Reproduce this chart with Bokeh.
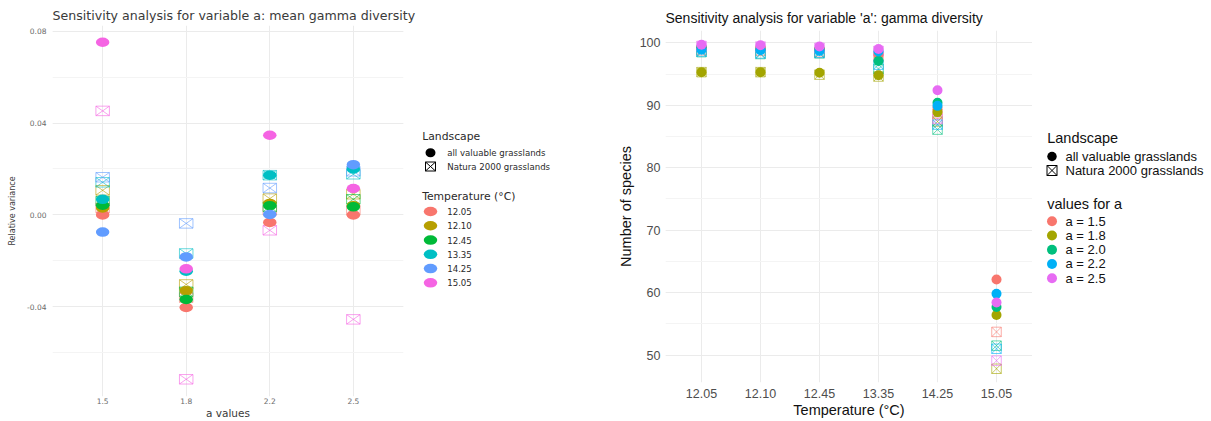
from bokeh.plotting import figure
from bokeh.layouts import row, column
from bokeh.models import (Range1d, FixedTicker, SingleIntervalTicker,
                          ColumnDataSource, PrintfTickFormatter)
from bokeh.embed import file_html
from bokeh.resources import INLINE
from bokeh.core.properties import value

# ------------------------------------------------------------------
# Left panel data: relative variance of mean gamma diversity
# ------------------------------------------------------------------
a_values = ["1.5", "1.8", "2.2", "2.5"]
temperature_labels = ["12.05", "12.10", "12.45", "13.35", "14.25", "15.05"]
temperature_colors = ["#F8766D", "#B79F00", "#00BA38", "#00BFC4", "#619CFF", "#F564E3"]
landscape_labels = ["all valuable grasslands", "Natura 2000 grasslands"]

# all valuable grasslands (filled circles), per temperature, over a_values
relvar_all_1205 = [0.0000, -0.0403, -0.0033, 0.0000]
relvar_all_1210 = [0.0030, -0.0330, 0.0050, 0.0040]
relvar_all_1245 = [0.0042, -0.0368, 0.0040, 0.0035]
relvar_all_1335 = [0.0068, -0.0245, 0.0173, 0.0200]
relvar_all_1425 = [-0.0075, -0.0183, 0.0002, 0.0219]
relvar_all_1505 = [0.0752, -0.0235, 0.0347, 0.0115]

# Natura 2000 grasslands (crossed squares), per temperature, over a_values
relvar_n2k_1205 = [0.0030, -0.0360, 0.0020, 0.0020]
relvar_n2k_1210 = [0.0107, -0.0303, 0.0071, 0.0090]
relvar_n2k_1245 = [0.0060, -0.0335, 0.0035, 0.0068]
relvar_n2k_1335 = [0.0142, -0.0168, 0.0173, 0.0177]
relvar_n2k_1425 = [0.0164, -0.0037, 0.0117, 0.0190]
relvar_n2k_1505 = [0.0453, -0.0716, -0.0067, -0.0455]

relvar_all = [relvar_all_1205, relvar_all_1210, relvar_all_1245,
              relvar_all_1335, relvar_all_1425, relvar_all_1505]
relvar_n2k = [relvar_n2k_1205, relvar_n2k_1210, relvar_n2k_1245,
              relvar_n2k_1335, relvar_n2k_1425, relvar_n2k_1505]

# ------------------------------------------------------------------
# Right panel data: number of species (gamma diversity)
# ------------------------------------------------------------------
temperature_axis = ["12.05", "12.10", "12.45", "13.35", "14.25", "15.05"]
a_labels = ["a = 1.5", "a = 1.8", "a = 2.0", "a = 2.2", "a = 2.5"]
a_colors = ["#F8766D", "#A3A500", "#00BF7D", "#00B0F6", "#E76BF3"]

species_all_a15 = [99.2, 99.2, 99.0, 98.1, 89.6, 62.1]
species_all_a18 = [95.3, 95.3, 95.2, 94.8, 88.9, 56.4]
species_all_a20 = [99.3, 99.0, 99.0, 97.1, 90.4, 57.7]
species_all_a22 = [98.9, 98.8, 98.7, 98.6, 89.9, 59.8]
species_all_a25 = [99.7, 99.6, 99.4, 99.0, 92.4, 58.4]

species_n2k_a15 = [98.8, 98.7, 98.5, 97.8, 88.6, 53.7]
species_n2k_a18 = [95.3, 95.3, 94.9, 94.6, 87.4, 47.8]
species_n2k_a20 = [98.5, 98.2, 98.3, 95.8, 86.1, 51.5]
species_n2k_a22 = [98.6, 98.3, 98.4, 96.5, 86.9, 51.0]
species_n2k_a25 = [99.5, 99.4, 99.2, 98.7, 87.8, 49.1]

species_all = [species_all_a15, species_all_a18, species_all_a20,
               species_all_a22, species_all_a25]
species_n2k = [species_n2k_a15, species_n2k_a18, species_n2k_a20,
               species_n2k_a22, species_n2k_a25]

# ------------------------------------------------------------------
# Styling helpers
# ------------------------------------------------------------------
GRID = "#EBEBEB"
MINOR = "#F4F4F4"


def style_axes(p, font, tick_size, tick_color, label_size, label_color,
               x_standoff, y_standoff, x_lab_standoff, y_lab_standoff):
    for ax in (p.xaxis, p.yaxis):
        ax.axis_line_color = None
        ax.major_tick_line_color = None
        ax.minor_tick_line_color = None
        ax.major_tick_out = 0
        ax.major_tick_in = 0
        ax.minor_tick_out = 0
        ax.minor_tick_in = 0
        ax.major_label_text_font = font
        ax.major_label_text_font_size = tick_size
        ax.major_label_text_color = tick_color
        ax.axis_label_text_font = font
        ax.axis_label_text_font_size = label_size
        ax.axis_label_text_font_style = "normal"
        ax.axis_label_text_color = label_color
    p.xaxis.major_label_standoff = x_standoff
    p.yaxis.major_label_standoff = y_standoff
    p.xaxis.axis_label_standoff = x_lab_standoff
    p.yaxis.axis_label_standoff = y_lab_standoff
    p.xgrid.grid_line_color = GRID
    p.ygrid.grid_line_color = GRID
    p.ygrid.minor_grid_line_color = MINOR
    p.outline_line_color = None
    p.background_fill_color = "white"
    p.border_fill_color = "white"


def legend_canvas(w, h):
    f = figure(width=w, height=h, x_range=Range1d(0, w), y_range=Range1d(h, 0),
               output_backend="svg", toolbar_location=None, min_border=0,
               x_axis_type=None, y_axis_type=None)
    f.grid.visible = False
    f.outline_line_color = None
    f.background_fill_color = "white"
    f.border_fill_color = "white"
    return f


H = 421

# ------------------------------------------------------------------
# Left panel
# ------------------------------------------------------------------
L_W = 420
L_BL, L_BR, L_BT, L_BB = 52, 17, 25, 24
L_X = (0.4, 4.6)
L_Y = (-0.0791, 0.0825)
a_pos = [i + 1 for i in range(len(a_values))]

left = figure(width=L_W, height=H, x_range=Range1d(*L_X), y_range=Range1d(*L_Y),
              output_backend="svg", toolbar_location=None,
              min_border_left=L_BL, min_border_right=L_BR,
              min_border_top=L_BT, min_border_bottom=L_BB,
              title="Sensitivity analysis for variable a: mean gamma diversity")
left.title.text_font = "DejaVu Sans"
left.title.text_font_size = "12.6px"
left.title.text_font_style = "normal"
left.title.text_color = "#3a3a3a"
left.title.standoff = 5
left.title.offset = 0

left.xaxis.ticker = FixedTicker(ticks=a_pos)
left.xaxis.major_label_overrides = {p: lab for p, lab in zip(a_pos, a_values)}
left.yaxis.ticker = SingleIntervalTicker(interval=0.04, num_minor_ticks=2)
left.yaxis.formatter = PrintfTickFormatter(format="%.2f")
left.xaxis.axis_label = "a values"
left.yaxis.axis_label = "Relative variance"
style_axes(left, "DejaVu Sans", "7.5px", "#6a6a6a", "10.5px", "#3a3a3a",
           1, 6, 0, 7)
left.yaxis.axis_label_text_font_size = "8px"

frame_w = L_W - L_BL - L_BR
frame_h = H - L_BT - L_BB
px_x = (L_X[1] - L_X[0]) / frame_w
px_y = (L_Y[1] - L_Y[0]) / frame_h
MW, MH = 13.5, 9.5   # marker size in pixels (horizontally stretched)

for vals, col in zip(relvar_n2k, temperature_colors):
    src = ColumnDataSource(dict(
        x=a_pos, y=vals,
        x0=[x - MW / 2 * px_x for x in a_pos], x1=[x + MW / 2 * px_x for x in a_pos],
        y0=[y - MH / 2 * px_y for y in vals], y1=[y + MH / 2 * px_y for y in vals]))
    left.rect("x", "y", width=MW, height=MH, width_units="screen", height_units="screen",
              source=src, fill_color=None, line_color=col, line_alpha=0.6, line_width=1)
    left.segment("x0", "y0", "x1", "y1", source=src, line_color=col, line_alpha=0.6, line_width=1)
    left.segment("x0", "y1", "x1", "y0", source=src, line_color=col, line_alpha=0.6, line_width=1)

for vals, col in zip(relvar_all, temperature_colors):
    left.ellipse(x=a_pos, y=vals, width=MW, height=MH, width_units="screen",
                 height_units="screen", fill_color=col, line_color=None)

# Left legend (canvas starts where the left figure ends)
LL_W = 185
lleg = legend_canvas(LL_W, H)
LFONT = value("DejaVu Sans")
LX_T, LX_M, LX_L = 1.7, 10, 26.7
lleg.text(x=[LX_T, LX_T], y=[136, 195.7], text=["Landscape", "Temperature (°C)"],
          text_font=LFONT, text_font_size="10.8px", text_baseline="middle",
          text_align="left", text_color="#2a2a2a")
land_y = [152.3 + 13.7 * i for i in range(len(landscape_labels))]
lleg.text(x=[LX_L] * len(landscape_labels), y=land_y, text=landscape_labels,
          text_font=LFONT, text_font_size="8.6px", text_baseline="middle",
          text_align="left", text_color="#2a2a2a")
lleg.ellipse(x=[LX_M], y=[land_y[0]], width=10, height=9, fill_color="black", line_color=None)
bx, by, bw, bh = LX_M, land_y[1], 10, 9
lleg.rect(x=[bx], y=[by], width=bw, height=bh, fill_color=None, line_color="black", line_width=1)
lleg.segment(x0=[bx - bw / 2, bx - bw / 2], y0=[by - bh / 2, by + bh / 2],
             x1=[bx + bw / 2, bx + bw / 2], y1=[by + bh / 2, by - bh / 2],
             line_color="black", line_width=1)
temp_y = [211 + 14.26 * i for i in range(len(temperature_labels))]
lleg.ellipse(x=[LX_M] * len(temp_y), y=temp_y, width=13.5, height=9.5,
             fill_color=temperature_colors, line_color=None)
lleg.text(x=[LX_L] * len(temp_y), y=temp_y, text=temperature_labels,
          text_font=LFONT, text_font_size="8.6px", text_baseline="middle",
          text_align="left", text_color="#2a2a2a")

# ------------------------------------------------------------------
# Right panel
# ------------------------------------------------------------------
R_W = 427
R_BL, R_BT, R_BB = 60, 30, 39
R_X = (0.39, 6.61)
R_Y = (45.6, 101.97)
t_pos = [i + 1 for i in range(len(temperature_axis))]

right = figure(width=R_W, height=H, x_range=Range1d(*R_X), y_range=Range1d(*R_Y),
               output_backend="svg", toolbar_location=None,
               min_border_left=R_BL, min_border_right=0,
               min_border_top=R_BT, min_border_bottom=R_BB,
               title="Sensitivity analysis for variable 'a': gamma diversity")
right.title.text_font = "Liberation Sans"
right.title.text_font_size = "14px"
right.title.text_font_style = "normal"
right.title.text_color = "#111111"
right.title.standoff = 9
right.title.offset = 0

right.xaxis.ticker = FixedTicker(ticks=t_pos)
right.xaxis.major_label_overrides = {p: lab for p, lab in zip(t_pos, temperature_axis)}
right.yaxis.ticker = SingleIntervalTicker(interval=10, num_minor_ticks=2)
right.xaxis.axis_label = "Temperature (°C)"
right.yaxis.axis_label = "Number of species"
style_axes(right, "Liberation Sans", "12.5px", "#4D4D4D", "14.5px", "#111111",
           6, 5, 1, 3)

for vals, col in zip(species_n2k, a_colors):
    right.scatter(x=t_pos, y=vals, marker="square_x", size=9.5, fill_color=None,
                  line_color=col, line_alpha=0.6, line_width=1)
for vals, col in zip(species_all, a_colors):
    right.scatter(x=t_pos, y=vals, marker="circle", size=10, fill_color=col, line_color=None)

# Right legend
RL_W = 179
rleg = legend_canvas(RL_W, H)
RFONT = value("Liberation Sans")
rleg.text(x=[14.7, 14.7], y=[137.7, 203], text=["Landscape", "values for a"],
          text_font=RFONT, text_font_size="14.5px", text_baseline="middle",
          text_align="left", text_color="#111111")
rland_y = [156 + 14 * i for i in range(len(landscape_labels))]
rleg.text(x=[33] * len(landscape_labels), y=rland_y, text=landscape_labels,
          text_font=RFONT, text_font_size="13px", text_baseline="middle",
          text_align="left", text_color="#111111")
rleg.scatter(x=[19.5], y=[rland_y[0]], marker="circle", size=9.5, fill_color="black", line_color=None)
rleg.scatter(x=[19.5], y=[rland_y[1]], marker="square_x", size=10, fill_color=None,
             line_color="black", line_width=1)
ra_y = [220.7 + 14.25 * i for i in range(len(a_labels))]
rleg.scatter(x=[19.5] * len(ra_y), y=ra_y, marker="circle", size=10,
             fill_color=a_colors, line_color=None)
rleg.text(x=[33] * len(ra_y), y=ra_y, text=a_labels,
          text_font=RFONT, text_font_size="13px", text_baseline="middle",
          text_align="left", text_color="#111111")

layout = row(column(left), column(lleg), column(right), column(rleg))
open("out.html", "w").write(file_html(layout, INLINE))
